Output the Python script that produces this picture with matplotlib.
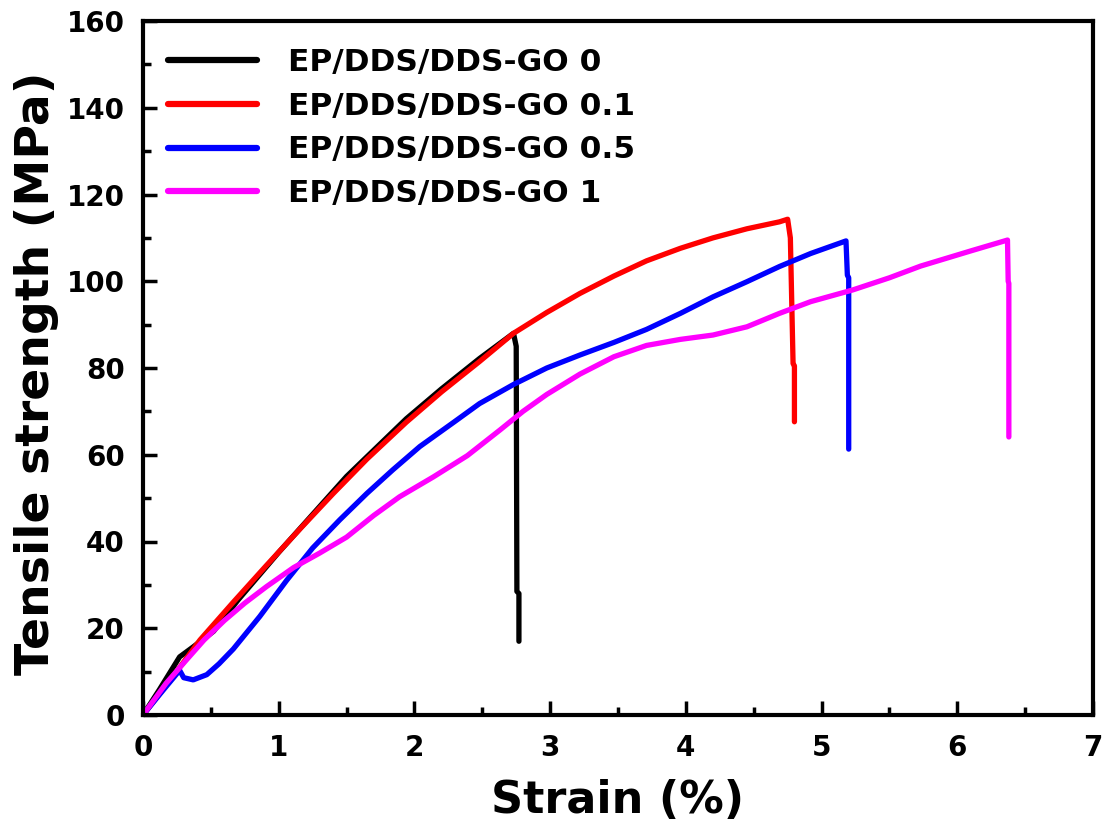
import matplotlib
matplotlib.use("Agg")
import matplotlib.pyplot as plt
from matplotlib.ticker import MultipleLocator

labels = ["EP/DDS/DDS-GO 0", "EP/DDS/DDS-GO 0.1", "EP/DDS/DDS-GO 0.5", "EP/DDS/DDS-GO 1"]
colors = ["#000000", "#FF0000", "#0000FF", "#FF00FF"]

x_go0 = [0, 0.12, 0.27, 0.37, 0.52, 0.7, 1.0, 1.5, 1.94, 2.2, 2.48, 2.73, 2.75, 2.755, 2.77, 2.77]
y_go0 = [0, 5.8, 13.4, 15.7, 19.3, 26.5, 37.5, 55, 68.3, 75.2, 82.2, 88.0, 85, 28.5, 28, 17]

x_go01 = [0, 0.2, 0.42, 0.665, 0.91, 1.16, 1.4, 1.65, 1.94, 2.2, 2.48, 2.73, 2.975, 3.22, 3.47,
          3.71, 3.96, 4.2, 4.45, 4.69, 4.75, 4.77, 4.79, 4.80, 4.80]
y_go01 = [0, 8, 17.3, 26, 34.5, 43, 51, 59, 67.5, 74.5, 81.5, 88, 92.8, 97.2, 101.2,
          104.7, 107.6, 110.0, 112.1, 113.7, 114.3, 110, 81, 80.5, 67.6]

x_go05 = [0, 0.14, 0.27, 0.3, 0.37, 0.47, 0.56, 0.665, 0.86, 1.06, 1.25, 1.45, 1.65, 1.84, 2.04,
          2.29, 2.48, 2.73, 2.975, 3.22, 3.47, 3.71, 3.96, 4.2, 4.45, 4.69, 4.92, 5.18, 5.19, 5.2, 5.2]
y_go05 = [0, 5.4, 10.3, 8.6, 8.1, 9.3, 11.8, 15.2, 22.7, 31.1, 38.5, 45, 51.1, 56.5, 61.9,
          67.5, 71.8, 76.2, 80.0, 83, 85.9, 88.9, 92.6, 96.4, 99.9, 103.4, 106.4, 109.3, 101.4, 100.8, 61.3]

x_go1 = [0, 0.17, 0.32, 0.45, 0.6, 0.75, 0.91, 1.11, 1.3, 1.5, 1.7, 1.89, 2.14, 2.39, 2.63, 2.8,
         2.975, 3.22, 3.47, 3.71, 3.96, 4.2, 4.45, 4.69, 4.92, 5.23, 5.5, 5.73, 6.1, 6.37, 6.375, 6.38, 6.38]
y_go1 = [0, 7.3, 12.7, 17.3, 21.8, 25.8, 29.6, 34, 37.3, 41, 46, 50.3, 54.9, 59.8, 65.7, 70,
         73.9, 78.6, 82.6, 85.2, 86.6, 87.6, 89.5, 92.6, 95.3, 98, 100.8, 103.5, 107, 109.5, 100, 99.5, 64.1]

series = [(x_go0, y_go0), (x_go01, y_go01), (x_go05, y_go05), (x_go1, y_go1)]

plt.rcParams['font.family'] = ['DejaVu Sans']
plt.rcParams['font.weight'] = 'bold'

fig = plt.figure(figsize=(11.03, 8.36), dpi=100)
ax = fig.add_axes([143/1103, 1 - 715/836, (1093 - 143)/1103, (715 - 21)/836])

for (xs, ys), c, lab in zip(series, colors, labels):
    ax.plot(xs, ys, color=c, lw=3.8, label=lab, solid_capstyle='round', solid_joinstyle='round')

ax.set_xlim(0, 7)
ax.set_ylim(0, 160)
ax.xaxis.set_major_locator(MultipleLocator(1))
ax.xaxis.set_minor_locator(MultipleLocator(0.5))
ax.yaxis.set_major_locator(MultipleLocator(20))
ax.yaxis.set_minor_locator(MultipleLocator(10))
ax.tick_params(which='major', direction='in', length=10, width=2.5, labelsize=20)
ax.tick_params(which='minor', direction='in', length=6, width=2.5)
ax.tick_params(axis='x', which='major', pad=14)
ax.tick_params(axis='y', which='major', pad=13)
for lab in ax.get_xticklabels() + ax.get_yticklabels():
    lab.set_fontweight('bold')
for s in ax.spines.values():
    s.set_linewidth(3)

ax.set_xlabel("Strain (%)", fontsize=32, fontweight='bold', labelpad=12)
ax.set_ylabel("Tensile strength (MPa)", fontsize=34, fontweight='bold', labelpad=6)
ax.yaxis.label.set_y(0.492)

leg = ax.legend(loc='upper left', bbox_to_anchor=(0.026, 0.961), frameon=False,
                prop={'size': 22.5, 'weight': 'bold'}, handlelength=2.85,
                handletextpad=1.0, labelspacing=0.47, borderpad=0, borderaxespad=0)
for h in leg.get_lines():
    h.set_linewidth(4.5)

fig.savefig("out.png", dpi=100)
